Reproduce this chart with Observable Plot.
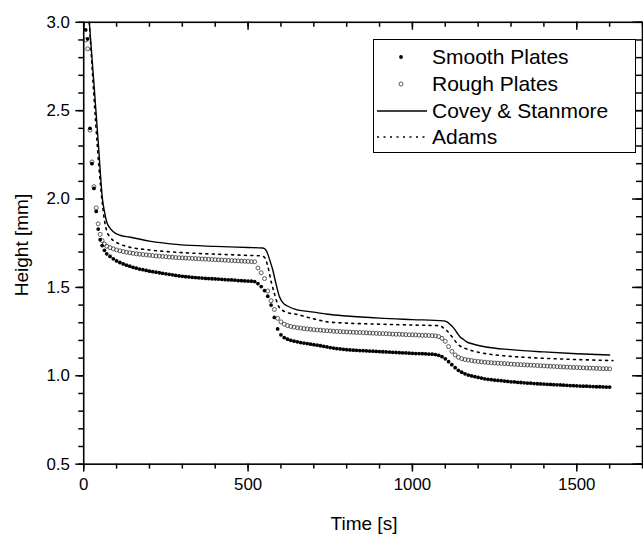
<!DOCTYPE html>
<html>
<head>
<meta charset="utf-8">
<script src="https://cdn.jsdelivr.net/npm/d3@7"></script>
<script src="https://cdn.jsdelivr.net/npm/@observablehq/plot@0.6"></script>
<style>
  html, body { margin: 0; padding: 0; background: #fff; overflow: hidden; }
  #wrap { position: relative; width: 643px; height: 537px; overflow: hidden; font-family: 'Liberation Sans', Arial, sans-serif; }
  #chart { position: absolute; left: 0; top: 0; }
  .title { position: absolute; font-size: 19px; color: #000; white-space: nowrap; }
  #xtitle { left: 0; width: 728px; text-align: center; top: 513px; }
  #ytitle { left: 22px; top: 245px; transform: translate(-50%, -50%) rotate(-90deg); }
  #legend { position: absolute; left: 373px; top: 39px; width: 261px; height: 112px; border: 1.5px solid #000; background: #fff; }
  .row { position: absolute; left: 0; height: 26px; width: 100%; }
  .row svg { position: absolute; left: 0; top: 0; }
  .row span { position: absolute; left: 58px; top: 0; font-size: 21px; line-height: 26px; color: #000; white-space: nowrap; }
</style>
</head>
<body>
<div id="wrap">
  <div id="chart"></div>
  <div id="xtitle" class="title">Time [s]</div>
  <div id="ytitle" class="title">Height [mm]</div>
  <div id="legend"></div>
</div>
<script>
// ---- data ----
const expT = [6,12,19,25,31,38,44,50,56,63,
  70,80,90,100,110,120,130,140,150,160,
  170,180,190,200,210,220,230,240,250,260,
  270,280,290,300,310,320,330,340,350,360,
  370,380,390,400,410,420,430,440,450,460,
  470,480,490,500,510,520,530,540,550,560,
  570,580,590,600,610,620,630,640,650,660,
  670,680,690,700,710,720,730,740,750,760,
  770,780,790,800,810,820,830,840,850,860,
  870,880,890,900,910,920,930,940,950,960,
  970,980,990,1000,1010,1020,1030,1040,1050,1060,
  1070,1080,1090,1100,1110,1120,1130,1140,1150,1160,
  1170,1180,1190,1200,1210,1220,1230,1240,1250,1260,
  1270,1280,1290,1300,1310,1320,1330,1340,1350,1360,
  1370,1380,1390,1400,1410,1420,1430,1440,1450,1460,
  1470,1480,1490,1500,1510,1520,1530,1540,1550,1560,
  1570,1580,1590,1600];

const smoothH = [2.957,2.906,2.40,2.20,2.06,1.93,1.83,1.77,1.737,1.71,
  1.69,1.675,1.662,1.65,1.641,1.633,1.626,1.62,1.614,1.609,
  1.604,1.6,1.596,1.592,1.589,1.586,1.583,1.58,1.577,1.574,
  1.571,1.568,1.565,1.563,1.561,1.559,1.557,1.556,1.554,1.553,
  1.551,1.55,1.549,1.548,1.547,1.546,1.544,1.543,1.542,1.541,
  1.539,1.538,1.537,1.536,1.535,1.533,1.522,1.505,1.482,1.45,
  1.40,1.33,1.265,1.232,1.216,1.207,1.201,1.196,1.192,1.188,
  1.185,1.182,1.179,1.176,1.173,1.17,1.167,1.163,1.16,1.157,
  1.154,1.152,1.15,1.148,1.146,1.145,1.144,1.143,1.142,1.141,
  1.14,1.139,1.138,1.137,1.136,1.135,1.134,1.133,1.132,1.131,
  1.13,1.129,1.128,1.127,1.126,1.126,1.125,1.124,1.123,1.122,
  1.12,1.116,1.108,1.096,1.08,1.063,1.046,1.031,1.02,1.011,
  1.004,0.999,0.995,0.991,0.987,0.983,0.98,0.978,0.976,0.974,
  0.972,0.97,0.968,0.966,0.965,0.963,0.962,0.96,0.959,0.958,
  0.956,0.955,0.954,0.953,0.952,0.951,0.95,0.949,0.948,0.947,
  0.946,0.945,0.944,0.943,0.942,0.941,0.941,0.94,0.939,0.938,
  0.938,0.937,0.936,0.936];

const roughH = [2.90,2.85,2.39,2.21,2.07,1.95,1.86,1.80,1.765,1.745,
  1.733,1.725,1.718,1.712,1.707,1.703,1.699,1.696,1.693,1.69,
  1.688,1.686,1.684,1.682,1.68,1.678,1.677,1.675,1.674,1.672,
  1.671,1.669,1.668,1.667,1.666,1.665,1.664,1.663,1.662,1.661,
  1.66,1.659,1.658,1.657,1.656,1.655,1.654,1.653,1.652,1.651,
  1.65,1.649,1.648,1.647,1.646,1.645,1.61,1.583,1.55,1.48,
  1.425,1.375,1.325,1.305,1.292,1.284,1.279,1.275,1.272,1.27,
  1.267,1.265,1.263,1.261,1.259,1.258,1.256,1.255,1.254,1.252,
  1.251,1.25,1.249,1.248,1.247,1.246,1.245,1.245,1.244,1.243,
  1.242,1.241,1.24,1.239,1.239,1.238,1.237,1.236,1.235,1.235,
  1.234,1.233,1.232,1.232,1.231,1.23,1.229,1.229,1.228,1.227,
  1.226,1.222,1.212,1.195,1.165,1.138,1.118,1.105,1.097,1.092,
  1.089,1.086,1.083,1.081,1.079,1.077,1.075,1.074,1.072,1.071,
  1.07,1.069,1.068,1.066,1.065,1.064,1.063,1.062,1.061,1.06,
  1.059,1.058,1.057,1.056,1.055,1.054,1.053,1.052,1.051,1.05,
  1.049,1.048,1.047,1.047,1.046,1.045,1.044,1.043,1.043,1.042,
  1.041,1.04,1.04,1.039];

const coveyT = [17,30,45,57,63,70,80,90,110,139,200,290,400,500,545,555,565,575,585,595,605,620,642,700,742,800,900,1000,1094,1105,1115,1124,1135,1145,1154,1165,1184,1224,1300,1400,1500,1600];
const coveyH = [3.0,2.68,2.3,2.0,1.93,1.87,1.835,1.815,1.795,1.785,1.762,1.742,1.732,1.726,1.723,1.71,1.66,1.60,1.52,1.45,1.415,1.395,1.377,1.36,1.348,1.338,1.326,1.318,1.311,1.305,1.29,1.274,1.245,1.22,1.208,1.192,1.18,1.163,1.148,1.135,1.125,1.118];

const adamsT = [17,57,63,70,80,90,110,139,200,290,400,500,540,550,560,571,581,591,605,620,642,700,742,800,900,1000,1084,1095,1105,1114,1125,1135,1144,1160,1190,1224,1300,1400,1500,1610];
const adamsH = [3.0,1.97,1.88,1.82,1.785,1.765,1.745,1.728,1.712,1.698,1.688,1.681,1.678,1.67,1.62,1.527,1.46,1.40,1.37,1.357,1.35,1.322,1.305,1.298,1.292,1.287,1.283,1.27,1.255,1.236,1.21,1.185,1.17,1.155,1.138,1.125,1.11,1.099,1.092,1.086];

const xMajor = [0,500,1000,1500];
const xMinor = [0,100,200,300,400,500,600,700,800,900,1000,1100,1200,1300,1400,1500,1600,1700];
const yMajor = [0.5,1.0,1.5,2.0,2.5,3.0];
const yMinor = [0.5,0.6,0.7,0.8,0.9,1.0,1.1,1.2,1.3,1.4,1.5,1.6,1.7,1.8,1.9,2.0,2.1,2.2,2.3,2.4,2.5,2.6,2.7,2.8,2.9,3.0];

const seriesNames = ["Smooth Plates","Rough Plates","Covey & Stanmore","Adams"];

// ---- tables ----
const smooth = expT.map((t,i) => ({t, h: smoothH[i]}));
const rough = expT.map((t,i) => ({t, h: roughH[i]}));
const covey = coveyT.map((t,i) => ({t, h: coveyH[i]}));
const adams = adamsT.map((t,i) => ({t, h: adamsH[i]}));

const W = 649, H = 537, mL = 84, mR = 1, mT = 22, mB = 69;
const innerW = W - mL - mR, innerH = H - mT - mB;
const blank = () => "";

const chart = Plot.plot({
  width: W,
  height: H,
  marginLeft: mL,
  marginRight: mR,
  marginTop: mT,
  marginBottom: mB,
  style: {fontFamily: "'Liberation Sans', Arial, sans-serif", fontSize: "17px", background: "#fff", color: "#000", overflow: "visible"},
  x: {domain: [0, 1700], label: null},
  y: {domain: [0.5, 3.0], label: null},
  marks: [
    Plot.line(covey, {x: "t", y: "h", stroke: "#000", strokeWidth: 1.4, curve: "monotone-x"}),
    Plot.line(adams, {x: "t", y: "h", stroke: "#000", strokeWidth: 1.6, strokeDasharray: "2,4.5", curve: "monotone-x"}),
    Plot.dot(rough, {x: "t", y: "h", r: 2, fill: "none", stroke: "#333", strokeWidth: 0.8}),
    Plot.dot(smooth, {x: "t", y: "h", r: 1.9, fill: "#000", stroke: "none"}),
    // bottom axis (outward ticks)
    Plot.axisX({anchor: "bottom", ticks: xMinor, tickSize: 5, tickFormat: blank, strokeWidth: 1.5, label: null}),
    Plot.axisX({anchor: "bottom", ticks: xMajor, tickSize: 8, tickPadding: 6, tickFormat: d => String(d), strokeWidth: 1.5, fontSize: 17, label: null}),
    // left axis (outward ticks)
    Plot.axisY({anchor: "left", ticks: yMinor, tickSize: 5, tickFormat: blank, strokeWidth: 1.5, label: null}),
    Plot.axisY({anchor: "left", ticks: yMajor, tickSize: 8, tickPadding: 6, tickFormat: d3.format(".1f"), strokeWidth: 1.5, fontSize: 17, label: null}),
    // top ticks (inward)
    Plot.tickX(xMinor, {x: d => d, stroke: "#000", strokeWidth: 1.5, insetBottom: innerH - 5}),
    Plot.tickX(xMajor, {x: d => d, stroke: "#000", strokeWidth: 1.5, insetBottom: innerH - 8}),
    // right ticks (inward)
    Plot.tickY(yMinor, {y: d => d, stroke: "#000", strokeWidth: 1.5, insetLeft: innerW - 6}),
    Plot.tickY(yMajor, {y: d => d, stroke: "#000", strokeWidth: 1.5, insetLeft: innerW - 10}),
    Plot.frame({stroke: "#000", strokeWidth: 1.6})
  ]
});
document.getElementById("chart").appendChild(chart);

// ---- legend ----
const legend = document.getElementById("legend");
const rowsTop = [4, 31, 58, 84];
seriesNames.forEach((name, i) => {
  const row = document.createElement("div");
  row.className = "row";
  row.style.top = rowsTop[i] + "px";
  let sym = "";
  if (i === 0) sym = '<circle cx="27" cy="13" r="1.9" fill="#000"/>';
  if (i === 1) sym = '<circle cx="27" cy="13" r="2" fill="none" stroke="#333" stroke-width="0.8"/>';
  if (i === 2) sym = '<line x1="3" y1="13" x2="53" y2="13" stroke="#000" stroke-width="1.4"/>';
  if (i === 3) sym = '<line x1="3" y1="13" x2="53" y2="13" stroke="#000" stroke-width="1.6" stroke-dasharray="2,4.5"/>';
  row.innerHTML = '<svg width="56" height="26">' + sym + '</svg><span>' + name.replace("&", "&amp;") + '</span>';
  legend.appendChild(row);
});
</script>
</body>
</html>
